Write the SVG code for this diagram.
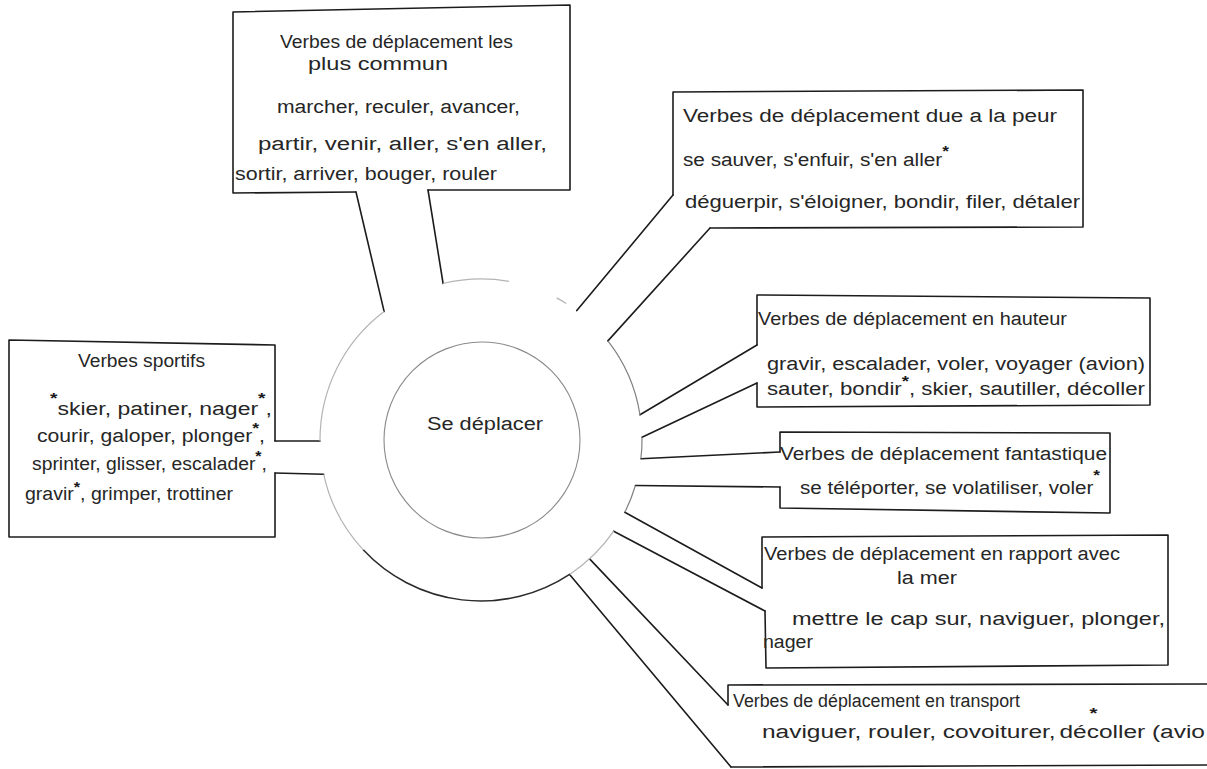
<svg xmlns="http://www.w3.org/2000/svg" width="1207" height="769" viewBox="0 0 1207 769">
<style>
.box{fill:none;stroke:#1c1c1c;stroke-width:1.6;stroke-linejoin:round;stroke-linecap:round}
.conn{fill:none;stroke:#1c1c1c;stroke-width:1.6;stroke-linecap:round}
.arc-dark{fill:none;stroke:#2a2a2a;stroke-width:1.5}
.arc-mid{fill:none;stroke:#808080;stroke-width:1.2}
.arc-faint{fill:none;stroke:#b4b4b4;stroke-width:1.2}
.inner{fill:none;stroke:#8a8a8a;stroke-width:1.1}
.t{font-family:"Liberation Sans",Arial,sans-serif;font-size:18px;fill:#262626}
.star{font-family:"Liberation Sans",Arial,sans-serif;font-size:15px;font-weight:bold;fill:#1a1a1a}
</style>
<rect width="1207" height="769" fill="#ffffff"/>

<g id="connectors">
  <line class="conn" x1="275" y1="441" x2="320" y2="441"/>
  <line class="conn" x1="275" y1="473" x2="323.7" y2="474.3"/>
  <line class="conn" x1="356" y1="192" x2="384.1" y2="311.4"/>
  <line class="conn" x1="428" y1="190" x2="443.1" y2="283.5"/>
  <line class="conn" x1="673" y1="195" x2="576.8" y2="310.6"/>
  <line class="conn" x1="710" y1="228" x2="607.9" y2="340.9"/>
  <line class="conn" x1="757" y1="345" x2="640" y2="414.8"/>
  <line class="conn" x1="757" y1="383" x2="642" y2="437.2"/>
  <line class="conn" x1="780" y1="452" x2="640.9" y2="458.8"/>
  <line class="conn" x1="780" y1="487" x2="635.4" y2="485.5"/>
  <line class="conn" x1="762" y1="588" x2="624.8" y2="512.3"/>
  <line class="conn" x1="765" y1="611" x2="613.7" y2="531.2"/>
  <line class="conn" x1="728" y1="705" x2="589.6" y2="558.9"/>
  <line class="conn" x1="731" y1="767" x2="569.6" y2="574.4"/>
</g>

<g id="center">
  <path class="arc-faint" d="M320,441.1 A161,161 0 0 1 384.1,311.4"/>
  <path class="arc-faint" d="M443.1,283.5 A161,161 0 0 1 509,281.4"/>
  <path class="arc-faint" d="M556.6,297.9 A161,161 0 0 1 566.3,303.5"/>
  <path class="arc-mid" d="M607.9,340.9 A161,161 0 0 1 640,414.8"/>
  <path class="arc-mid" d="M642,437.2 A161,161 0 0 1 640.9,458.8"/>
  <path class="arc-mid" d="M635.4,485.5 A161,161 0 0 1 624.8,512.3"/>
  <path class="arc-faint" d="M613.7,531.2 A161,161 0 0 1 569.6,574.4"/>
  <path class="arc-dark" d="M569.6,574.4 A161,161 0 0 1 363.2,549.8"/>
  <path class="arc-faint" d="M363.2,549.8 A161,161 0 0 1 323.7,474.3"/>
  <circle class="inner" cx="482" cy="440" r="98"/>
  <text class="t" x="427" y="430" font-size="20" textLength="116" lengthAdjust="spacingAndGlyphs">Se déplacer</text>
</g>

<g id="box-communs">
  <path class="box" d="M356,192 L233,193 L233,12 L570,5 L570,190 L428,190"/>
  <text class="t" x="280" y="48" textLength="233" lengthAdjust="spacingAndGlyphs">Verbes de déplacement les</text>
  <text class="t" x="308" y="70" textLength="140" lengthAdjust="spacingAndGlyphs">plus commun</text>
  <text class="t" x="277" y="113" textLength="243" lengthAdjust="spacingAndGlyphs">marcher, reculer, avancer,</text>
  <text class="t" x="258" y="150" textLength="289" lengthAdjust="spacingAndGlyphs">partir, venir, aller, s'en aller,</text>
  <text class="t" x="235" y="180" textLength="262" lengthAdjust="spacingAndGlyphs">sortir, arriver, bouger, rouler</text>
</g>

<g id="box-peur">
  <path class="box" d="M673,195 L673,92 L1083,90 L1083,227 L710,228"/>
  <text class="t" x="683" y="122" textLength="374" lengthAdjust="spacingAndGlyphs">Verbes de déplacement due a la peur</text>
  <text class="t" x="683" y="166" textLength="266" lengthAdjust="spacingAndGlyphs">se sauver, s'enfuir, s'en aller<tspan class="star" dy="-10">*</tspan></text>
  <text class="t" x="685" y="208" textLength="395" lengthAdjust="spacingAndGlyphs">déguerpir, s'éloigner, bondir, filer, détaler</text>
</g>

<g id="box-hauteur">
  <path class="box" d="M757,345 L757,295 L1150,298 L1150,405 L757,407 L757,383"/>
  <text class="t" x="758" y="325" textLength="309" lengthAdjust="spacingAndGlyphs">Verbes de déplacement en hauteur</text>
  <text class="t" x="767" y="370" textLength="378" lengthAdjust="spacingAndGlyphs">gravir, escalader, voler, voyager (avion)</text>
  <text class="t" x="767" y="395" textLength="378" lengthAdjust="spacingAndGlyphs">sauter, bondir<tspan class="star" dy="-9">*</tspan><tspan dy="9">, skier, sautiller, décoller</tspan></text>
</g>

<g id="box-fantastique">
  <path class="box" d="M780,452 L780,432 L1110,433 L1110,513 L780,508 L780,487"/>
  <text class="t" x="780" y="460" textLength="327" lengthAdjust="spacingAndGlyphs">Verbes de déplacement fantastique</text>
  <text class="t" x="800" y="494" textLength="300" lengthAdjust="spacingAndGlyphs">se téléporter, se volatiliser, voler<tspan class="star" font-size="22" dy="-14">*</tspan></text>
</g>

<g id="box-mer">
  <path class="box" d="M762,588 L762,537 L1168,535 L1168,665 L766,668 L765,611"/>
  <text class="t" x="764" y="560" textLength="356" lengthAdjust="spacingAndGlyphs">Verbes de déplacement en rapport avec</text>
  <text class="t" x="897" y="584" textLength="60" lengthAdjust="spacingAndGlyphs">la mer</text>
  <text class="t" x="792" y="625" textLength="373" lengthAdjust="spacingAndGlyphs">mettre le cap sur, naviguer, plonger,</text>
  <text class="t" x="763" y="648" textLength="50" lengthAdjust="spacingAndGlyphs">nager</text>
</g>

<g id="box-transport">
  <path class="box" d="M728,705 L728,685 L1207,684"/>
  <path class="box" d="M731,767 L1207,765"/>
  <text class="t" x="733" y="707" textLength="287" lengthAdjust="spacingAndGlyphs">Verbes de déplacement en transport</text>
  <text class="t" x="762" y="738" textLength="443" lengthAdjust="spacingAndGlyphs">naviguer, rouler, covoiturer, <tspan class="star" dx="20" dy="-20">*</tspan><tspan dx="-28" dy="20">décoller (avio</tspan></text>
</g>

<g id="box-sportifs">
  <path class="box" d="M275,441 L275,345 L9,340 L9,537 L275,537 L275,473"/>
  <text class="t" x="78" y="367" textLength="127" lengthAdjust="spacingAndGlyphs">Verbes sportifs</text>
  <text class="t" x="50" y="415" textLength="222" lengthAdjust="spacingAndGlyphs"><tspan class="star" dy="-12">*</tspan><tspan dy="12">skier, patiner, nager</tspan><tspan class="star" dy="-12">*</tspan><tspan dy="12">,</tspan></text>
  <text class="t" x="37" y="442" textLength="228" lengthAdjust="spacingAndGlyphs">courir, galoper, plonger<tspan class="star" dy="-9">*</tspan><tspan dy="9">,</tspan></text>
  <text class="t" x="32" y="470" textLength="235" lengthAdjust="spacingAndGlyphs">sprinter, glisser, escalader<tspan class="star" dy="-9">*</tspan><tspan dy="9">,</tspan></text>
  <text class="t" x="25" y="500" textLength="208" lengthAdjust="spacingAndGlyphs">gravir<tspan class="star" dy="-8">*</tspan><tspan dy="8">, grimper, trottiner</tspan></text>
</g>
</svg>
